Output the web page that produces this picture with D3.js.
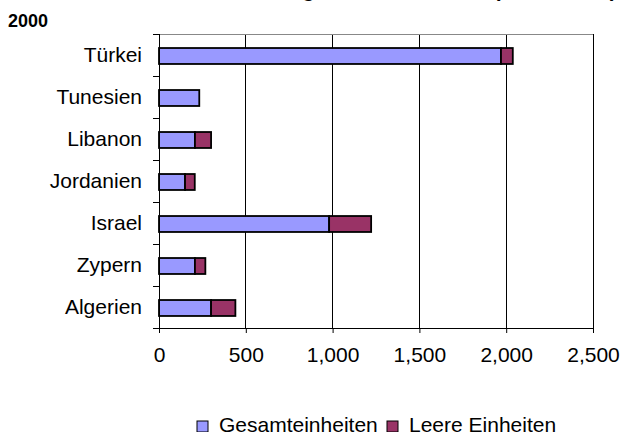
<!DOCTYPE html>
<html lang="de">
<head>
<meta charset="UTF-8">
<title>Wohneinheiten 2000</title>
<script src="https://d3js.org/d3.v7.min.js"></script>
<style>
  body { margin: 0; background: #fff; }
  svg { font-family: "Liberation Sans", Arial, sans-serif; display: block; }
</style>
</head>
<body>
<div id="chart"></div>
<script>
// categories, top to bottom
const countries = ["Türkei", "Tunesien", "Libanon", "Jordanien", "Israel", "Zypern", "Algerien"];
// stacked segments (in Tausend)
const gesamt = [1970, 232, 207, 150, 980, 207, 300];
const leere = [68, 0, 93, 56, 242, 60, 140];
const xTicks = [0, 500, 1000, 1500, 2000, 2500];
const seriesNames = ["Gesamteinheiten", "Leere Einheiten"];
const colors = ["#9999ff", "#993366"];

const width = 623, height = 432;
const plot = { left: 159, right: 593, top: 34, bottom: 328 };
const fs = 21;

const svg = d3.select("#chart").append("svg")
    .attr("width", width)
    .attr("height", height);

// title runs off the top edge, only the year line is fully visible
svg.append("text")
    .attr("x", 196).attr("y", -3)
    .attr("font-size", fs).attr("font-weight", "bold")
    .text("Leere und gesamte Einheiten (in Tausend), Stand");
svg.append("text")
    .attr("x", 8).attr("y", 27)
    .attr("font-size", 18).attr("font-weight", "bold")
    .text("2000");

const x = d3.scaleLinear().domain([0, 2500]).range([plot.left, plot.right]);
const y = d3.scaleBand().domain(countries)
    .range([plot.top, plot.bottom])
    .paddingInner(0.62).paddingOuter(0.31);

// gridlines
svg.append("g")
  .selectAll("line")
  .data(xTicks.slice(1))
  .join("line")
    .attr("x1", d => x(d)).attr("x2", d => x(d))
    .attr("y1", plot.top).attr("y2", plot.bottom)
    .attr("stroke", "#000").attr("stroke-width", 1)
    .attr("shape-rendering", "crispEdges");

// top border
svg.append("line")
    .attr("x1", plot.left - 6).attr("x2", plot.right)
    .attr("y1", plot.top).attr("y2", plot.top)
    .attr("stroke", "#888").attr("stroke-width", 1)
    .attr("shape-rendering", "crispEdges");

// stacked bars
const stackData = countries.map((c, i) => ({ country: c, g: gesamt[i], l: leere[i] }));
const stacked = d3.stack().keys(["g", "l"])(stackData);

svg.append("g")
  .selectAll("g")
  .data(stacked)
  .join("g")
    .attr("fill", (d, i) => colors[i])
  .selectAll("rect")
  .data(d => d.filter(s => s[1] > s[0]))
  .join("rect")
    .attr("x", d => x(d[0]))
    .attr("y", d => y(d.data.country) + 1)
    .attr("width", d => x(d[1]) - x(d[0]))
    .attr("height", y.bandwidth())
    .attr("stroke", "#000")
    .attr("stroke-width", 1.8);

// x axis
const xAxis = svg.append("g")
    .attr("transform", `translate(0,${plot.bottom})`)
    .call(d3.axisBottom(x).tickValues(xTicks).tickSize(5).tickPadding(14)
      .tickFormat(d3.format(",")).tickSizeOuter(0));
xAxis.select(".domain").attr("stroke", "#000");
xAxis.selectAll("text").attr("font-size", fs).attr("fill", "#000")
    .attr("font-family", "Liberation Sans, Arial, sans-serif");

// y axis with ticks at band boundaries
const yAxis = svg.append("g");
yAxis.append("line")
    .attr("x1", plot.left).attr("x2", plot.left)
    .attr("y1", plot.top).attr("y2", plot.bottom + 5)
    .attr("stroke", "#000").attr("shape-rendering", "crispEdges");
const bounds = countries.map(c => y(c) - y.step() * y.paddingOuter()).concat([plot.bottom]);
yAxis.selectAll(".bt")
  .data(bounds)
  .join("line")
    .attr("class", "bt")
    .attr("x1", plot.left - 6).attr("x2", plot.left)
    .attr("y1", d => d).attr("y2", d => d)
    .attr("stroke", "#000").attr("shape-rendering", "crispEdges");
yAxis.selectAll("text")
  .data(countries)
  .join("text")
    .attr("x", 142)
    .attr("y", d => y(d) + y.bandwidth() / 2)
    .attr("dy", "0.35em")
    .attr("text-anchor", "end")
    .attr("font-size", fs)
    .text(d => d);

// legend
const legendX = [197, 387];
const legend = svg.append("g")
  .selectAll("g")
  .data(seriesNames)
  .join("g")
    .attr("transform", (d, i) => `translate(${legendX[i]},421)`);
legend.append("rect")
    .attr("width", 11).attr("height", 11)
    .attr("fill", (d, i) => colors[i])
    .attr("stroke", "#000");
legend.append("text")
    .attr("x", 22).attr("y", 11)
    .attr("font-size", fs)
    .text(d => d);
</script>
</body>
</html>
